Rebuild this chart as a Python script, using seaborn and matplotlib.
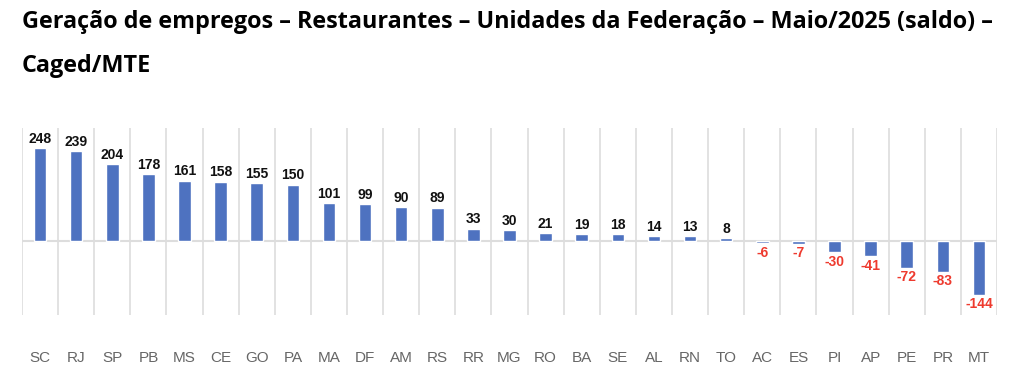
import pandas as pd
import seaborn as sb
import matplotlib.pyplot as plt

estados = ["SC", "RJ", "SP", "PB", "MS", "CE", "GO", "PA", "MA", "DF", "AM", "RS", "RR", "MG",
           "RO", "BA", "SE", "AL", "RN", "TO", "AC", "ES", "PI", "AP", "PE", "PR", "MT"]
saldo = [248, 239, 204, 178, 161, 158, 155, 150, 101, 99, 90, 89, 33, 30,
         21, 19, 18, 14, 13, 8, -6, -7, -30, -41, -72, -83, -144]

df = pd.DataFrame({"UF": estados, "Saldo": saldo})

sb.set_style("white")
plt.rcParams['font.family'] = ['Liberation Sans', 'DejaVu Sans']

fig = plt.figure(figsize=(10.24, 3.69), dpi=100)
ax = fig.add_axes([22 / 1024, 1 - 315 / 369, 975 / 1024, 187 / 369])

sb.barplot(data=df, x="UF", y="Saldo", color="#4E72C0", saturation=1, width=0.35, ax=ax)
ax.set_ylim(-197, 301)
ax.set_xlim(-0.5, len(estados) - 0.5)

# separadores verticais e linha do zero
for i in range(len(estados) + 1):
    ax.axvline(i - 0.5, color="#dddddd", lw=1.2, zorder=0)
ax.axhline(0, color="#dddddd", lw=1.5, zorder=0)

for i, v in enumerate(saldo):
    if v >= 0:
        ax.text(i, v + 6, str(v), ha="center", va="bottom", fontsize=10,
                fontweight="bold", color="#111111")
    else:
        ax.text(i, v - 6, str(v), ha="center", va="top", fontsize=10,
                fontweight="bold", color="#ee3a2e")

for s in ax.spines.values():
    s.set_visible(False)
ax.set_yticks([])
ax.set_xlabel("")
ax.set_ylabel("")
ax.tick_params(axis="x", length=0, pad=26, labelsize=11, labelcolor="#666666")

fig.text(22 / 1024, 1 - 22 / 369, "Geração de empregos – Restaurantes – Unidades da Federação – Maio/2025 (saldo) –",
         fontsize=16.8, fontweight="bold", va="center", ha="left", color="black",
         family=["Open Sans", "DejaVu Sans"])
fig.text(22 / 1024, 1 - 66 / 369, "Caged/MTE",
         fontsize=16.8, fontweight="bold", va="center", ha="left", color="black",
         family=["Open Sans", "DejaVu Sans"])

fig.savefig("out.png", dpi=100, facecolor="white")
